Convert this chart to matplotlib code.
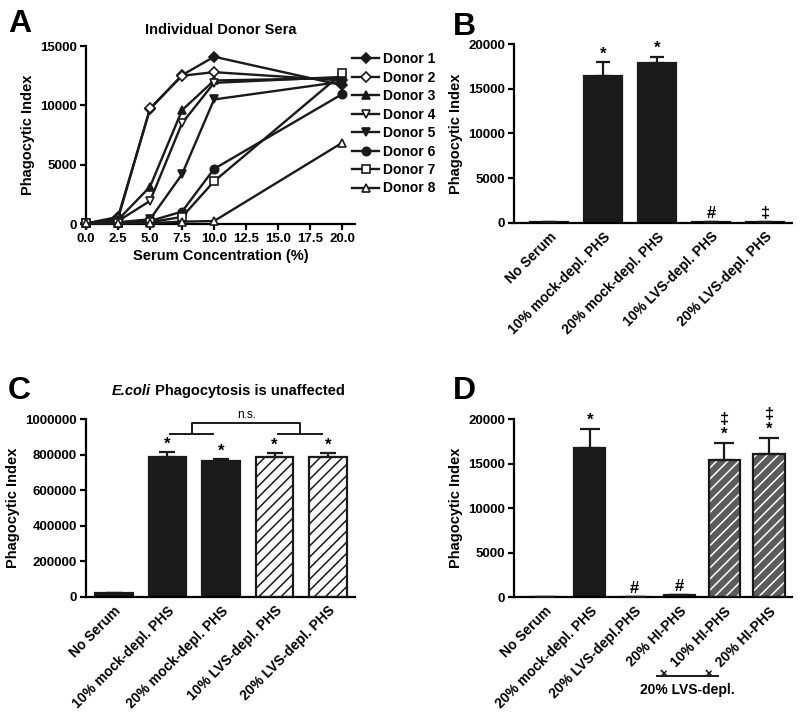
import numpy as np
import matplotlib
matplotlib.use("Agg")
import matplotlib.pyplot as plt
import matplotlib.transforms as mtrans
from matplotlib.lines import Line2D

# ── Style ─────────────────────────────────────────────────────────────────────
plt.rcParams.update({
    "font.family":       ["Liberation Sans", "DejaVu Sans"],
    "font.weight":       "bold",
    "axes.labelweight":  "bold",
    "axes.linewidth":    1.6,
    "axes.spines.top":   False,
    "axes.spines.right": False,
    "xtick.major.width": 1.6,
    "ytick.major.width": 1.6,
    "xtick.major.size":  4.5,
    "ytick.major.size":  4.5,
    "xtick.labelsize":   9.5,
    "ytick.labelsize":   9.5,
    "hatch.linewidth":   1.1,
})

BLACK = "#1a1a1a"
GRAY = "#5c5c5c"

# ── Data ──────────────────────────────────────────────────────────────────────
# A: individual donors
conc = [0.0, 2.5, 5.0, 7.5, 10.0, 20.0]
donor_names = ["Donor 1", "Donor 2", "Donor 3", "Donor 4",
               "Donor 5", "Donor 6", "Donor 7", "Donor 8"]
donor_1 = [50, 600, 9700, 12550, 14100, 11700]
donor_2 = [50, 450, 9750, 12500, 12800, 12100]
donor_3 = [50, 350, 3150, 9600, 12100, 12300]
donor_4 = [50, 250, 1950, 8500, 11900, 12400]
donor_5 = [50, 150, 400, 4200, 10500, 12000]
donor_6 = [50, 100, 250, 1050, 4650, 10950]
donor_7 = [50, 80, 150, 600, 3600, 12700]
donor_8 = [50, 50, 80, 200, 250, 6850]
donor_markers = ["D", "D", "^", "v", "v", "o", "s", "^"]
donor_filled = [True, False, True, False, True, True, False, False]
a_xticks = [0.0, 2.5, 5.0, 7.5, 10.0, 12.5, 15.0, 17.5, 20.0]

# B: Francisella phagocytosis, depleted sera
b_labels = ["No Serum", "10% mock-depl. PHS", "20% mock-depl. PHS",
            "10% LVS-depl. PHS", "20% LVS-depl. PHS"]
b_means = [60, 16450, 17940, 70, 110]
b_err = [0, 1550, 640, 0, 0]
b_marks = ["", "*", "*", "#", "\u2021"]

# C: E. coli phagocytosis
c_labels = ["No Serum", "10% mock-depl. PHS", "20% mock-depl. PHS",
            "10% LVS-depl. PHS", "20% LVS-depl. PHS"]
c_means = [19000, 789000, 765000, 787000, 787000]
c_err = [4000, 25000, 9000, 23000, 23000]
c_marks = ["", "*", "*", "*", "*"]
c_hatched = [False, False, False, True, True]
c_yticks = [0, 200000, 400000, 600000, 800000, 1000000]

# D: heat-inactivated serum add-back
d_labels = ["No Serum", "20% mock-depl. PHS", "20% LVS-depl.PHS",
            "20% HI-PHS", "+  10% HI-PHS", "+  20% HI-PHS"]
d_means = [40, 16820, 80, 280, 15430, 16070]
d_err = [0, 2130, 0, 0, 1950, 1870]
d_marks = ["", "*", "#", "#", "\u2021\n*", "\u2021\n*"]
d_hatched = [False, False, False, False, True, True]

fig = plt.figure(figsize=(8.0, 7.13), dpi=100)
ax_a = fig.add_axes([0.1075, 0.6858, 0.33625, 0.2496])
ax_b = fig.add_axes([0.6425, 0.6877, 0.3475, 0.2502])
ax_c = fig.add_axes([0.1075, 0.1631, 0.33625, 0.2488])
ax_d = fig.add_axes([0.6425, 0.1623, 0.3475, 0.2497])

# ── A. Line plot of donors ────────────────────────────────────────────────────
donors = [donor_1, donor_2, donor_3, donor_4, donor_5, donor_6, donor_7, donor_8]
for name, vals, mk, filled in zip(donor_names, donors, donor_markers, donor_filled):
    ms = 5.0 if mk == "D" else 6.0
    ax_a.plot(conc, vals, color=BLACK, lw=1.7, marker=mk, ms=ms,
              mfc=BLACK if filled else "white", mec=BLACK, mew=1.2,
              label=name, clip_on=False, zorder=3)
ax_a.set_xlim(0, 21)
ax_a.set_ylim(0, 15000)
ax_a.set_xticks(a_xticks)
ax_a.set_xticklabels([f"{t:.1f}" for t in a_xticks])
ax_a.set_yticks([0, 5000, 10000, 15000])
ax_a.tick_params(axis="both", pad=2)
ax_a.set_xlabel("Serum Concentration (%)", fontsize=10.5, labelpad=3)
ax_a.set_ylabel("Phagocytic Index", fontsize=10.5, labelpad=4)
ax_a.set_title("Individual Donor Sera", fontsize=10.5, fontweight="bold", pad=9)
ax_a.legend(loc="upper left", bbox_to_anchor=(0.99, 0.965), frameon=False,
            fontsize=10, handlelength=1.9, handletextpad=0.3,
            labelspacing=0.32, borderpad=0, borderaxespad=0)


def bar_panel(ax, labels, means, err, marks, hatched, hatch_face, hatch_line,
              capsize, ymax, yticks):
    x = np.arange(len(means))
    for i in range(len(means)):
        if hatched[i]:
            ax.bar(x[i], means[i], width=0.7, color=hatch_face,
                   edgecolor=hatch_line, hatch="///", lw=0, zorder=2)
            ax.bar(x[i], means[i], width=0.7, fill=False,
                   edgecolor=BLACK, lw=1.6, zorder=3)
        else:
            ax.bar(x[i], means[i], width=0.7, color=BLACK,
                   edgecolor=BLACK, lw=1.6, zorder=2)
    lower = np.zeros(len(means))
    ax.errorbar(x, means, yerr=[lower, err], fmt="none", ecolor=BLACK,
                elinewidth=1.6, capsize=capsize, capthick=1.6, zorder=4)
    tops = np.array(means) + np.array(err)
    for i, m in enumerate(marks):
        if m:
            ax.annotate(m, (x[i], tops[i]), xytext=(0, 0.5),
                        textcoords="offset points", ha="center", va="bottom",
                        fontsize=12, linespacing=1.0)
    ax.set_xlim(-0.65, len(means) - 0.5)
    ax.set_ylim(0, ymax)
    ax.set_yticks(yticks)
    ax.set_yticklabels([str(t) for t in yticks])
    ax.set_xticks(x)
    ax.set_xticklabels(labels, rotation=45, ha="right", va="top",
                       rotation_mode="anchor", fontsize=10)
    ax.tick_params(axis="x", length=0, pad=5)
    ax.tick_params(axis="y", pad=2)
    ax.set_ylabel("Phagocytic Index", fontsize=10.5, labelpad=4)
    return x


# ── B ─────────────────────────────────────────────────────────────────────────
bar_panel(ax_b, b_labels, b_means, b_err, b_marks, [False] * 5, "white", BLACK,
          5, 20000, [0, 5000, 10000, 15000, 20000])

# ── C ─────────────────────────────────────────────────────────────────────────
xc = bar_panel(ax_c, c_labels, c_means, c_err, c_marks, c_hatched, "white", BLACK,
               6, 1000000, c_yticks)
ax_c.set_xlim(-0.52, 4.5)
low, high = 919000, 981000
ax_c.plot([1.05, 1.85], [low, low], color=BLACK, lw=1.4, clip_on=False)
ax_c.plot([3.07, 3.89], [low, low], color=BLACK, lw=1.4, clip_on=False)
ax_c.plot([1.46, 1.46, 3.48, 3.48], [low, high, high, low], color=BLACK,
          lw=1.4, clip_on=False)
ax_c.text(2.47, high + 8000, "n.s.", ha="center", va="bottom",
          fontsize=8.5, fontweight="normal")

# ── D ─────────────────────────────────────────────────────────────────────────
xd = bar_panel(ax_d, d_labels, d_means, d_err, d_marks, d_hatched, GRAY, "white",
               7, 20000, [0, 5000, 10000, 15000, 20000])
ax_d.set_xlim(-0.69, 5.51)
blend = mtrans.blended_transform_factory(ax_d.transData, ax_d.transAxes)
ax_d.add_line(Line2D([2.51, 3.85], [-0.442, -0.442], transform=blend,
                     color=BLACK, lw=1.4, clip_on=False))
ax_d.text(3.18, -0.52, "20% LVS-depl.", transform=blend, ha="center",
          va="center", fontsize=10)

# ── Titles / panel letters ────────────────────────────────────────────────────
t1 = fig.text(0.1396, 0.4516, "E.coli", fontsize=10.5, fontweight="bold",
              style="italic", ha="left", va="center")
ax_c.annotate(" Phagocytosis is unaffected", xy=(1, 0), xycoords=t1,
              ha="left", va="bottom", fontsize=10.5, fontweight="bold")

for letter, (lx, ly) in zip("ABCD", [(0.010, 0.987), (0.566, 0.983),
                                     (0.010, 0.473), (0.566, 0.473)]):
    fig.text(lx, ly, letter, fontsize=23, fontweight="bold", ha="left", va="top")

fig.savefig("out.png", dpi=100)
